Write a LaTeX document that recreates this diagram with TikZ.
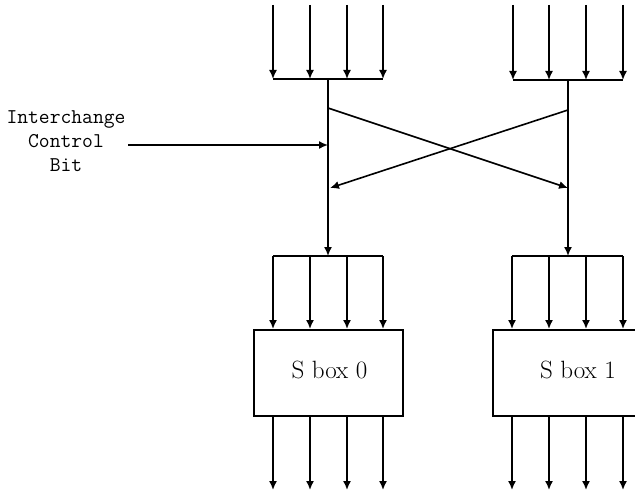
\documentclass[tikz,border=0pt]{standalone}
\usetikzlibrary{arrows.meta}
\begin{document}
\begin{tikzpicture}[x=1pt,y=-1pt,
  wire/.style={line width=1.6pt},
  arr/.style={wire,-{Latex[length=9pt,width=8pt]}},
  sbox/.style={draw,line width=1.7pt,minimum width=149pt,minimum height=86pt,anchor=north west,inner sep=0pt},
  lbl/.style={font=\ttfamily\fontsize{21}{24}\selectfont,align=center},
  btxt/.style={font=\fontsize{25}{28}\selectfont}]
\clip (0,0) rectangle (635,495);
% boxes
\node[sbox] (s0) at (253,329) {};
\node[btxt] (t0) at (329.5,370) {S box 0};
\node[sbox] (s1) at (492,329) {};
\node[btxt] (t1) at (578,370) {S box 1};
% junction coordinates
\coordinate (lb) at (328,79);
\coordinate (rb) at (568,80);
\coordinate (lj) at (328,256);
\coordinate (rj) at (568,256);
\coordinate (lx1) at (328,108);
\coordinate (rx1) at (568,110);
\coordinate (lx2) at (330,188);
\coordinate (rx2) at (568,188);
\coordinate (cb) at (328,145);
% top bars
\draw[wire] (273,79) -- (383,79);
\draw[wire] (513,80) -- (623,80);
\foreach \x [count=\i] in {273,310,347,383} {
  \coordinate (li\i) at (\x,5);
  \coordinate (lt\i) at (\x,79);
  \draw[arr] (li\i) -- (lt\i);
}
\foreach \x [count=\i] in {513,549,586,623} {
  \coordinate (ri\i) at (\x,5);
  \coordinate (rt\i) at (\x,80);
  \draw[arr] (ri\i) -- (rt\i);
}
% stems
\draw[arr] (lb) -- (lj);
\draw[arr] (rb) -- (rj);
% cross
\draw[arr] (lx1) -- (rx2);
\draw[arr] (rx1) -- (lx2);
% control
\node[lbl] (ctl) at (66,141) {Interchange\\Control\\Bit};
\coordinate (cs) at (128,145);
\draw[arr] (cs) -- (cb);
% lower bars and box inputs
\draw[wire] (273,256) -- (383,256);
\draw[wire] (512,256) -- (623,256);
\foreach \x [count=\i] in {273,310,347,383} {
  \coordinate (lu\i) at (\x,256);
  \coordinate (lv\i) at (\x,329);
  \draw[arr] (lu\i) -- (lv\i);
  \coordinate (lo\i) at (\x,415);
  \coordinate (lp\i) at (\x,490);
  \draw[arr] (lo\i) -- (lp\i);
}
\foreach \x [count=\i] in {512,549,586,623} {
  \coordinate (ru\i) at (\x,256);
  \coordinate (rv\i) at (\x,329);
  \draw[arr] (ru\i) -- (rv\i);
  \coordinate (ro\i) at (\x,415);
  \coordinate (rp\i) at (\x,490);
  \draw[arr] (ro\i) -- (rp\i);
}
\end{tikzpicture}
\end{document}
